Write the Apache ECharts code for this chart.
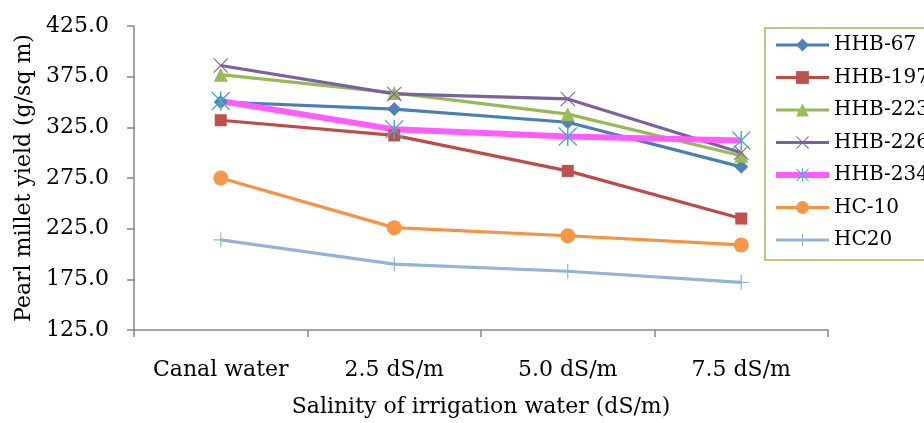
<!DOCTYPE html>
<html>
<head>
<meta charset="utf-8">
<title>Pearl millet yield under saline irrigation</title>
<script src="https://cdn.jsdelivr.net/npm/echarts@6/dist/echarts.min.js"></script>
<style>
  html, body { margin: 0; padding: 0; background: #ffffff; }
  #chart { width: 924px; height: 423px; }
</style>
</head>
<body>
<div id="chart"></div>
<script>
// Salinity treatments on the x axis
const categories = ['Canal water', '2.5 dS/m', '5.0 dS/m', '7.5 dS/m'];

// Yield (g/sq m) for each genotype
const hhb67  = [350, 343, 330, 286];
const hhb197 = [332, 317, 282, 235];
const hhb223 = [377, 359, 338, 297];
const hhb226 = [386, 358, 353, 300];
const hhb234 = [351, 323, 316, 312];
const hc10   = [275, 226, 218, 209];
const hc20   = [214, 190, 183, 172];

// Y axis tick labels
const yTicks = [125, 175, 225, 275, 325, 375, 425];

const FONT = 'DejaVu Serif';

// Stroke-like markers built as filled outlines
const SYM_X    = 'path://M0,1L1,0L20,19L19,20ZM19,0L20,1L1,20L0,19Z';
const SYM_STAR = 'path://M0,1L1,0L20,19L19,20ZM19,0L20,1L1,20L0,19ZM9.2,0L10.8,0L10.8,20L9.2,20Z';
const SYM_PLUS = 'path://M9.2,0L10.8,0L10.8,9.2L20,9.2L20,10.8L10.8,10.8L10.8,20L9.2,20L9.2,10.8L0,10.8L0,9.2L9.2,9.2Z';

function line(name, data, lineColor, markColor, symbol, size, width) {
  return {
    name: name,
    type: 'line',
    data: data,
    symbol: symbol,
    symbolSize: size,
    showSymbol: true,
    animation: false,
    lineStyle: { color: lineColor, width: width },
    itemStyle: { color: markColor, borderWidth: 0 },
    emphasis: { disabled: true }
  };
}

const names = ['HHB-67', 'HHB-197', 'HHB-223', 'HHB-226', 'HHB-234', 'HC-10', 'HC20'];
const widths = [3.2, 3.2, 3.2, 3.2, 6, 3.2, 3.2];

const chart = echarts.init(document.getElementById('chart'), null, { renderer: 'canvas' });

chart.setOption({
  backgroundColor: '#ffffff',
  animation: false,
  grid: { left: 134, right: 96, top: 26, bottom: 90, containLabel: false },
  legend: {
    orient: 'vertical',
    left: 765,
    top: 28,
    padding: [7, 40, 10, 8],
    itemWidth: 53,
    itemHeight: 16,
    itemGap: 12.5,
    borderColor: '#9bbb59',
    borderWidth: 1.5,
    borderRadius: 0,
    textStyle: { fontFamily: FONT, fontSize: 20, color: '#000000' },
    lineStyle: { width: 'inherit' },
    data: names.map(function (n, i) {
      return { name: n, lineStyle: { width: widths[i] } };
    })
  },
  xAxis: {
    type: 'category',
    data: categories,
    boundaryGap: true,
    name: 'Salinity of irrigation water (dS/m)',
    nameLocation: 'middle',
    nameGap: 66,
    nameTextStyle: { fontFamily: FONT, fontSize: 22, color: '#000000' },
    axisLine: { lineStyle: { color: '#868686', width: 1.5 } },
    axisTick: { show: true, interval: 0, alignWithLabel: false, length: 7, lineStyle: { color: '#868686', width: 1.5 } },
    axisLabel: { interval: 0, fontFamily: FONT, fontSize: 22, color: '#000000', margin: 29 },
    splitLine: { show: false }
  },
  yAxis: {
    type: 'value',
    min: 125,
    max: 425,
    name: 'Pearl millet yield (g/sq m)',
    nameLocation: 'middle',
    nameGap: 99,
    nameTextStyle: { fontFamily: FONT, fontSize: 22, color: '#000000' },
    axisLine: { show: true, lineStyle: { color: '#868686', width: 1.5 } },
    axisTick: { show: true, length: 7, customValues: yTicks, lineStyle: { color: '#868686', width: 1.5 } },
    axisLabel: {
      fontFamily: FONT, fontSize: 22, color: '#000000', margin: 25,
      customValues: yTicks,
      formatter: function (v) { return Number(v).toFixed(1); }
    },
    splitLine: { show: false }
  },
  series: [
    line(names[0], hhb67,  '#4a7ebb', '#4f81bd', 'diamond',  14, widths[0]),
    line(names[1], hhb197, '#be4b48', '#c0504d', 'rect',     12, widths[1]),
    line(names[2], hhb223, '#98b954', '#9bbb59', 'triangle', 14, widths[2]),
    line(names[3], hhb226, '#7d60a0', '#7d60a0', SYM_X,      15, widths[3]),
    line(names[4], hhb234, '#ff5cff', '#4bacc6', SYM_STAR,   19, widths[4]),
    line(names[5], hc10,   '#f69240', '#f79646', 'circle',   15, widths[5]),
    line(names[6], hc20,   '#95b3d7', '#95b3d7', SYM_PLUS,   15, widths[6])
  ]
});
</script>
</body>
</html>
